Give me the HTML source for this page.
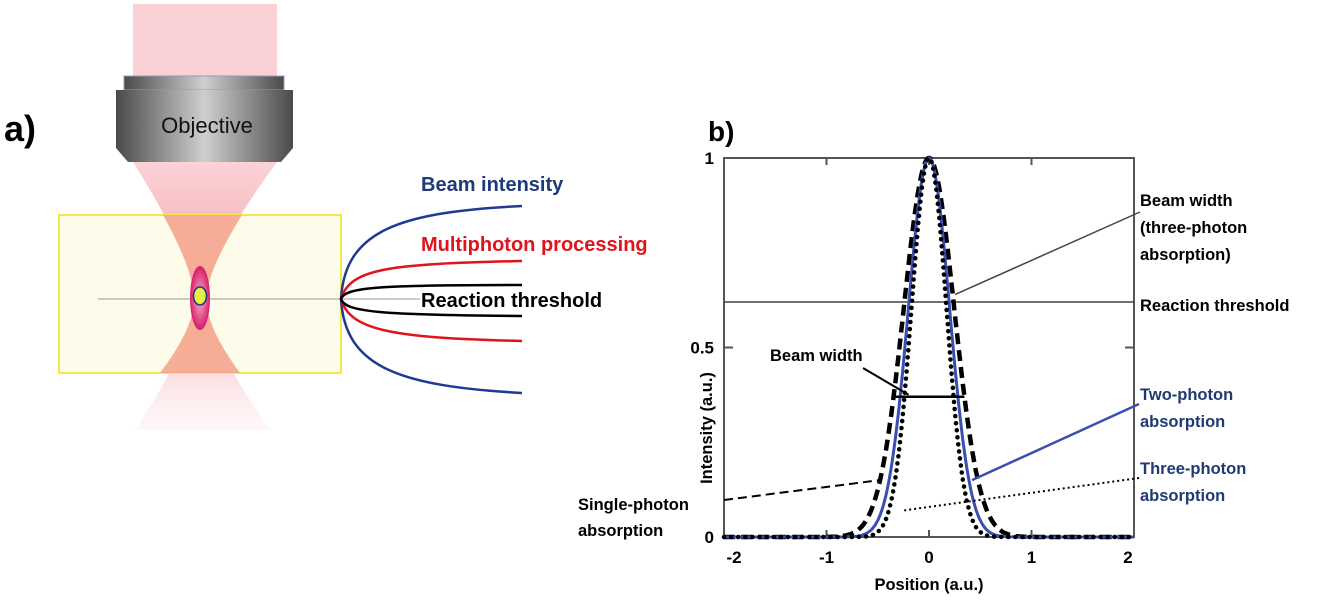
<!DOCTYPE html>
<html><head><meta charset="utf-8"><style>
body{margin:0;background:#fff;}
svg{display:block;font-family:"Liberation Sans",sans-serif;}
</style></head><body>
<svg width="1320" height="604" viewBox="0 0 1320 604">
<defs>
<linearGradient id="obj" x1="0" x2="1"><stop offset="0" stop-color="#4a4a4a"/><stop offset="0.5" stop-color="#cfcfcf"/><stop offset="1" stop-color="#4a4a4a"/></linearGradient>
<linearGradient id="fadeTop" x1="0" y1="0" x2="0" y2="1"><stop offset="0" stop-color="#fbd3d6"/><stop offset="1" stop-color="#f3a0aa"/></linearGradient>
<linearGradient id="fadeBot" x1="0" y1="0" x2="0" y2="1"><stop offset="0" stop-color="#f3a0aa"/><stop offset="1" stop-color="#fde8ea" stop-opacity="0.3"/></linearGradient>
<radialGradient id="spot"><stop offset="0" stop-color="#f7b6d0"/><stop offset="1" stop-color="#d81b6a"/></radialGradient>
</defs>
<g>
<text x="4" y="141" font-size="36" font-weight="bold">a)</text>
<rect x="133" y="4" width="144" height="72" fill="#f9d0d3"/>
<path d="M133,162 L277,162 Q205,260 206,299 L193,299 Q195,260 133,162 Z" fill="url(#fadeTop)"/>
<path d="M193,299 L206,299 Q207,340 270,430 L135,430 Q195,340 193,299 Z" fill="url(#fadeBot)"/>
<rect x="59" y="215" width="282" height="158" fill="#fdfbe6" fill-opacity="0.85" stroke="#f2e84a" stroke-width="2"/>
<path d="M163,215 Q196,275 193,299 Q196,325 160,373 L240,373 Q205,325 207,299 Q205,275 242,215 Z" fill="#f4a088" fill-opacity="0.85"/>
<rect x="124" y="76" width="160" height="14" fill="url(#obj)" stroke="#99b"/>
<path d="M116,90 L293,90 L293,148 L281,162 L128,162 L116,148 Z" fill="url(#obj)"/>
<text x="207" y="133" font-size="22" text-anchor="middle" fill="#111">Objective</text>
<line x1="98" y1="299" x2="420" y2="299" stroke="#999" stroke-width="1"/>
<ellipse cx="200" cy="298" rx="10" ry="32" fill="url(#spot)"/>
<ellipse cx="200" cy="296" rx="6.5" ry="9" fill="#e6f040" stroke="#203080" stroke-width="1.5"/>
<path d="M522,206 C400,212 345,230 341,299 C345,368 400,386 522,393" fill="none" stroke="#1f3a93" stroke-width="2.5"/>
<path d="M522,261 C390,264 350,268 341,299 C350,330 390,338 522,341" fill="none" stroke="#e0141c" stroke-width="2.5"/>
<path d="M522,285 C380,285 345,287 341,299 C345,312 380,315 522,316" fill="none" stroke="#000" stroke-width="2.5"/>
<text x="421" y="191" font-size="20" font-weight="bold" fill="#1f3a7a">Beam intensity</text>
<text x="421" y="251" font-size="20" font-weight="bold" fill="#e0141c">Multiphoton processing</text>
<text x="421" y="307" font-size="20" font-weight="bold" fill="#000">Reaction threshold</text>
</g>
<g id="chart">
<text x="708" y="141" font-size="28" font-weight="bold">b)</text>
</g>
<g font-size="16.5" font-weight="bold">
<text x="1140" y="206"><tspan x="1140">Beam width</tspan><tspan x="1140" dy="27">(three-photon</tspan><tspan x="1140" dy="27">absorption)</tspan></text>
<text x="1140" y="311">Reaction threshold</text>
<text x="1140" y="400" fill="#1f3a73"><tspan x="1140">Two-photon</tspan><tspan x="1140" dy="27">absorption</tspan></text>
<text x="1140" y="474" fill="#1f3a73"><tspan x="1140">Three-photon</tspan><tspan x="1140" dy="27">absorption</tspan></text>
<text x="578" y="510"><tspan x="578">Single-photon</tspan><tspan x="578" dy="26">absorption</tspan></text>
<text x="770" y="361">Beam width</text>
<text x="929" y="590" text-anchor="middle">Position  (a.u.)</text>
<text transform="translate(712,428) rotate(-90)" text-anchor="middle">Intensity  (a.u.)</text>
</g>
</svg>
<script>
const xTicks=[-2,-1,0,1,2];
const yTicks=[0,0.5,1];
const yTickLabels=['0','0.5','1'];
const threshold=[0.62];
const seriesNames=['single-photon','two-photon','three-photon'];
const seriesWidths=[0.245,0.2,0.17];
const seriesAmp=[1,1,1];
const beamWidthLevel=[0.37];
const NS='http://www.w3.org/2000/svg';
const X0=724,X1=1134,Y0=537,Y1=158;
const sx=v=>X0+(v+2)/4*(X1-X0);
const sy=v=>Y0-v*(Y0-Y1);
const g=document.getElementById('chart');
function mk(t,a){const e=document.createElementNS(NS,t);for(const k in a)e.setAttribute(k,a[k]);g.appendChild(e);return e;}
let r=mk('rect',{x:X0,y:Y1,width:X1-X0,height:Y0-Y1,fill:'none',stroke:'#555','stroke-width':2});


xTicks.forEach(t=>{
 let l=mk('path',{d:`M${sx(t)},${Y0}v-7M${sx(t)},${Y1}v7`,stroke:'#555','stroke-width':2});
 
 
 let tx=mk('text',{x:sx(t)+(t==-2?10:t==2?-6:0),y:Y0+26,'text-anchor':'middle','font-size':17,'font-weight':'bold'});
 tx.textContent=String(t);
 
 
});
yTicks.forEach((t,i)=>{
 let l=mk('path',{d:`M${X0},${sy(t)}h9M${X1},${sy(t)}h-9`,stroke:'#555','stroke-width':2});
 
 
 let tx=mk('text',{x:X0-10,y:sy(t)+6,'text-anchor':'end','font-size':17,'font-weight':'bold'});
 tx.textContent=yTickLabels[i];
 
 
});
let th=mk('line',{x1:X0,x2:X1,y1:sy(threshold[0]),y2:sy(threshold[0]),stroke:'#444','stroke-width':1.5});


const styles=[{stroke:'#000','stroke-width':4.5,'stroke-dasharray':'11 6'},{stroke:'#3a4fb0','stroke-width':3},{stroke:'#000','stroke-width':4.5,'stroke-dasharray':'0.1 7','stroke-linecap':'round'}];
seriesNames.forEach((n,i)=>{
 let d='';
 for(let k=0;k<=400;k++){const x=-2+k/100;const y=seriesAmp[i]*Math.exp(-x*x/(2*seriesWidths[i]**2));d+=(k?'L':'M')+sx(x).toFixed(1)+','+sy(y).toFixed(1);}
 let p=mk('path',Object.assign({d,fill:'none'},styles[i]));
 
 
});
const w=seriesWidths[0]*Math.sqrt(2*Math.log(1/beamWidthLevel[0]));
let ba=mk('line',{x1:sx(-w),x2:sx(w),y1:sy(beamWidthLevel[0]),y2:sy(beamWidthLevel[0]),stroke:'#000','stroke-width':2.5});


const w3=seriesWidths[1]*Math.sqrt(2*Math.log(1/threshold[0]));
const lines=[
 [[863,368],[sx(-0.2),sy(beamWidthLevel[0])-2],'#000','2',''],
 [[1140,212],[sx(w3+0.06),sy(0.64)],'#444','1.5',''],
 [[1139,404],[sx(0.42),sy(0.15)],'#3a4fb0','2.5',''],
 [[1139,478],[sx(-0.25),sy(0.07)],'#000','2','2 3'],
 [[724,500],[sx(-0.48),sy(0.15)],'#000','2','9 5']
];
lines.forEach(l=>{
 let e=mk('line',{x1:l[0][0],y1:l[0][1],x2:l[1][0],y2:l[1][1],stroke:l[2],'stroke-width':l[3],'stroke-dasharray':l[4]});
 
 
});
</script>
</body></html>
